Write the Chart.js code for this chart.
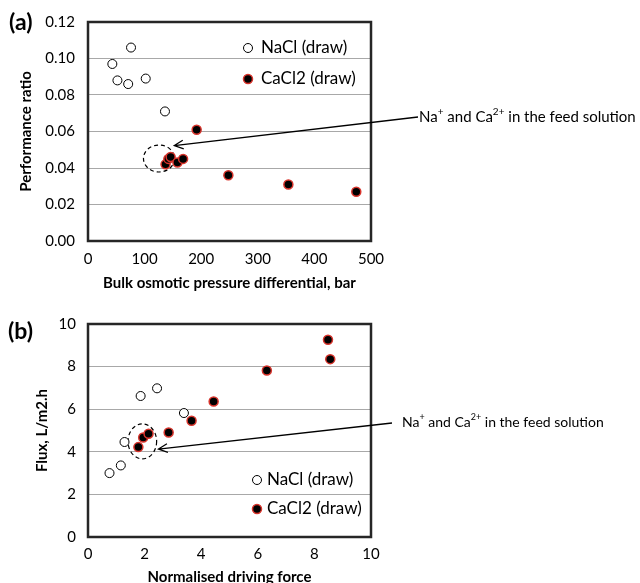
<!DOCTYPE html>
<html>
<head>
<meta charset="utf-8">
<script src="https://cdn.jsdelivr.net/npm/chart.js@4.4.1/dist/chart.umd.min.js"></script>
<style>
  body { margin: 0; background: #fff; width: 640px; height: 583px; overflow: hidden; position: relative; }
  .panel { position: absolute; left: 0; width: 640px; height: 300px; }
</style>
</head>
<body>
<div class="panel" style="top:0"><canvas id="chartA" width="640" height="300"></canvas></div>
<div class="panel" style="top:300px"><canvas id="chartB" width="640" height="300"></canvas></div>
<script>
// panel (a): performance ratio vs bulk osmotic pressure differential
const naclA_x = [43, 52, 71, 76, 102, 136];
const naclA_y = [0.097, 0.088, 0.086, 0.106, 0.089, 0.071];
const caclA_x = [137, 142, 146, 158, 168, 192, 248, 354, 474];
const caclA_y = [0.042, 0.045, 0.046, 0.043, 0.045, 0.061, 0.036, 0.031, 0.027];
const xTicksA = [0, 100, 200, 300, 400, 500];
const yTicksA = [0, 0.02, 0.04, 0.06, 0.08, 0.10, 0.12];

// panel (b): flux vs normalised driving force
const naclB_x = [0.76, 1.16, 1.29, 1.86, 2.44, 3.39];
const naclB_y = [3.0, 3.36, 4.46, 6.62, 6.98, 5.82];
const caclB_x = [1.78, 1.95, 2.14, 2.85, 3.66, 4.44, 6.32, 8.48, 8.56];
const caclB_y = [4.22, 4.67, 4.85, 4.91, 5.46, 6.36, 7.82, 9.26, 8.35];
const xTicksB = [0, 2, 4, 6, 8, 10];
const yTicksB = [0, 2, 4, 6, 8, 10];

const seriesNames = ['NaCl (draw)', 'CaCl2 (draw)'];
// [text, superscript?]
const noteParts = [['Na', false], ['+', true], [' and Ca', false], ['2+', true], [' in the feed solution', false]];

Chart.defaults.color = '#000';
Chart.defaults.font.family = 'Lato';

const zip = (xs, ys) => xs.map((v, i) => ({ x: v, y: ys[i] }));

function drawNote(ctx, x, y, size) {
  ctx.textAlign = 'left';
  ctx.textBaseline = 'middle';
  noteParts.forEach(([t, sup]) => {
    ctx.font = (sup ? Math.round(size * 0.65) : size) + 'px Lato';
    ctx.fillText(t, x, sup ? y - size * 0.35 : y);
    x += ctx.measureText(t).width;
  });
}

const decor = {
  id: 'decor',
  beforeDatasetsDraw(chart, args, o) {
    const { ctx, scales: { x, y } } = chart;
    const ex = x.getPixelForValue(o.ellipse[0]);
    const ey = y.getPixelForValue(o.ellipse[1]);
    ctx.save();
    ctx.setLineDash([4, 3]);
    ctx.lineWidth = 1.2;
    ctx.strokeStyle = '#000';
    ctx.beginPath();
    ctx.ellipse(ex, ey, o.ellipse[2], o.ellipse[3], 0, 0, Math.PI * 2);
    ctx.stroke();
    ctx.restore();
  },
  afterDraw(chart, args, o) {
    const { ctx, chartArea: a, scales: { x, y } } = chart;
    ctx.save();
    // frame
    ctx.strokeStyle = '#262626';
    ctx.lineWidth = 2.5;
    ctx.strokeRect(a.left, a.top, a.right - a.left, a.bottom - a.top);

    // panel letter
    ctx.fillStyle = '#000';
    ctx.font = 'bold 23px Lato';
    ctx.textAlign = 'left';
    ctx.textBaseline = 'middle';
    ctx.fillText(o.letter, o.letterPos[0], o.letterPos[1]);

    // legend
    chart.data.datasets.forEach((ds, i) => {
      const ly = a.top + o.legendY[i];
      const lx = a.left + o.legendX;
      ctx.beginPath();
      ctx.arc(lx, ly, 4.5, 0, Math.PI * 2);
      ctx.fillStyle = ds.backgroundColor;
      ctx.fill();
      ctx.lineWidth = ds.borderWidth;
      ctx.strokeStyle = ds.borderColor;
      ctx.stroke();
      ctx.fillStyle = '#000';
      ctx.font = '17px Lato';
      ctx.fillText(ds.label, lx + o.legendGap, ly);
    });

    // arrow from note to the dashed group
    const tx = x.getPixelForValue(o.tip[0]);
    const ty = y.getPixelForValue(o.tip[1]);
    const [sx, sy] = o.tail;
    ctx.strokeStyle = '#000';
    ctx.lineWidth = 1.3;
    ctx.beginPath();
    ctx.moveTo(sx, sy);
    ctx.lineTo(tx, ty);
    const ang = Math.atan2(ty - sy, tx - sx);
    const len = 10, spread = 0.45;
    ctx.moveTo(tx - len * Math.cos(ang - spread), ty - len * Math.sin(ang - spread));
    ctx.lineTo(tx, ty);
    ctx.lineTo(tx - len * Math.cos(ang + spread), ty - len * Math.sin(ang + spread));
    ctx.stroke();

    ctx.fillStyle = '#000';
    drawNote(ctx, o.notePos[0], o.notePos[1], o.noteSize);
    ctx.restore();
  }
};

function makeChart(id, cfg) {
  return new Chart(document.getElementById(id), {
    type: 'scatter',
    data: {
      datasets: [
        { label: seriesNames[0], data: zip(cfg.nx, cfg.ny), backgroundColor: '#fff', borderColor: '#000',
          borderWidth: 1, pointRadius: 4.5 },
        { label: seriesNames[1], data: zip(cfg.cx, cfg.cy), backgroundColor: '#000', borderColor: '#d8342c',
          borderWidth: 1.5, pointRadius: 4.5 }
      ]
    },
    options: {
      responsive: false,
      animation: false,
      events: [],
      layout: { padding: { top: cfg.top, right: 269, left: 0, bottom: 0 } },
      scales: {
        x: {
          type: 'linear', min: cfg.xTicks[0], max: cfg.xTicks[cfg.xTicks.length - 1],
          afterBuildTicks: s => { s.ticks = cfg.xTicks.map(v => ({ value: v })); },
          afterFit: s => { s.height = cfg.xh; },
          grid: { display: false },
          border: { display: false },
          ticks: { font: { size: 15 }, padding: cfg.xPad, maxRotation: 0 },
          title: { display: true, text: cfg.xTitle, font: { size: 15, weight: 'bold' }, padding: { top: 0, bottom: cfg.xTitlePad } }
        },
        y: {
          type: 'linear', min: cfg.yTicks[0], max: cfg.yTicks[cfg.yTicks.length - 1],
          afterBuildTicks: s => { s.ticks = cfg.yTicks.map(v => ({ value: v })); },
          afterFit: s => { s.width = 88; },
          grid: { color: '#a8a8a8', lineWidth: 1, drawTicks: false },
          border: { display: false },
          ticks: { font: { size: 15 }, padding: cfg.yPad, callback: cfg.yFmt },
          title: { display: true, text: cfg.yTitle, font: { size: 15, weight: 'bold' }, padding: { top: cfg.yTitlePad, bottom: 0 } }
        }
      },
      plugins: {
        legend: { display: false },
        tooltip: { enabled: false },
        decor: cfg.decor
      }
    },
    plugins: [decor]
  });
}

makeChart('chartA', {
  nx: naclA_x, ny: naclA_y, cx: caclA_x, cy: caclA_y,
  xTicks: xTicksA, yTicks: yTicksA,
  top: 17, xh: 59, xPad: 1, yPad: 13, xTitlePad: 8, yTitlePad: 17,
  xTitle: 'Bulk osmotic pressure differential, bar',
  yTitle: 'Performance ratio',
  yFmt: v => v.toFixed(2),
  decor: {
    letter: '(a)', letterPos: [9, 23],
    legendX: 160, legendGap: 13, legendY: [26, 57],
    ellipse: [125.4, 0.0452, 15.5, 13.5],
    tip: [152.5, 0.0523], tail: [418, 117], notePos: [419, 117], noteSize: 15
  }
});

makeChart('chartB', {
  nx: naclB_x, ny: naclB_y, cx: caclB_x, cy: caclB_y,
  xTicks: xTicksB, yTicks: yTicksB,
  top: 24, xh: 63, xPad: 0, yPad: 12, xTitlePad: 14, yTitlePad: 33,
  xTitle: 'Normalised driving force',
  yTitle: 'Flux, L/m2.h',
  yFmt: v => v,
  decor: {
    letter: '(b)', letterPos: [8, 32],
    legendX: 169, legendGap: 10, legendY: [156, 185],
    ellipse: [1.92, 4.49, 14.3, 17.5],
    tip: [2.49, 4.13], tail: [392, 123], notePos: [402, 122], noteSize: 14
  }
});
</script>
</body>
</html>
